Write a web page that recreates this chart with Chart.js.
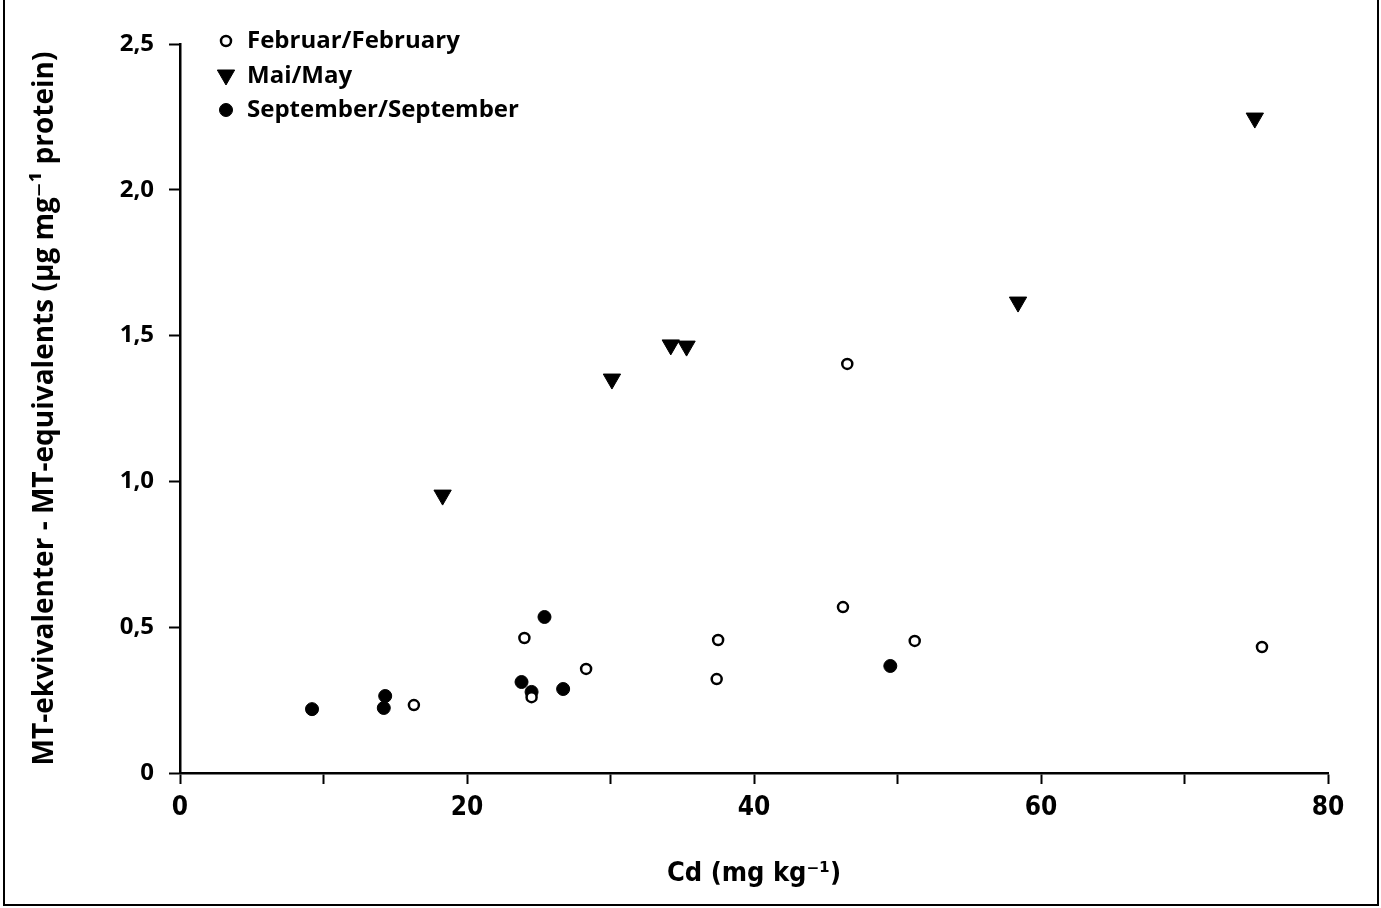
<!DOCTYPE html>
<html>
<head>
<meta charset="utf-8">
<script src="https://cdn.jsdelivr.net/npm/chart.js@4/dist/chart.umd.min.js"></script>
<style>
    html, body { margin: 0; padding: 0; background: #fff; }
    #wrap { width: 1381px; height: 908px; position: relative; }
</style>
</head>
<body>
<div id="wrap"><canvas id="mt-chart" width="1381" height="908"></canvas></div>
<script>
// Cd (mg kg-1) vs MT-equivalents
var febX = [16.3, 24.0, 24.5, 28.3, 37.5, 37.4, 46.2, 46.5, 51.2, 75.4];
var febY = [0.233, 0.463, 0.260, 0.357, 0.456, 0.322, 0.569, 1.403, 0.453, 0.432];

var mayX = [18.3, 30.1, 34.2, 35.3, 58.4, 74.9];
var mayY = [0.953, 1.351, 1.468, 1.464, 1.615, 2.246];

var sepX = [9.2, 14.3, 14.2, 23.8, 24.5, 25.4, 26.7, 49.5];
var sepY = [0.219, 0.264, 0.223, 0.312, 0.278, 0.535, 0.288, 0.367];

var seriesNames = ['Februar/February', 'Mai/May', 'September/September'];
var xTickLabels = ['0', '20', '40', '60', '80'];
var yTickLabels = ['0', '0,5', '1,0', '1,5', '2,0', '2,5'];

function toPoints(xs, ys) {
    var pts = [];
    for (var i = 0; i < xs.length; i++) {
        pts.push({ x: xs[i], y: ys[i] });
    }
    return pts;
}

var boldFont = '"Open Sans", "DejaVu Sans", sans-serif';
var narrowFont = '"Liberation Sans Narrow", "DejaVu Sans Condensed", "Open Sans", sans-serif';

// legend drawn inside the plot, top-left, like the printed figure
var innerLegend = {
    id: 'innerLegend',
    afterDraw: function (chart) {
        var ctx = chart.ctx;
        var rows = [
            { y: 41, ds: chart.data.datasets[0] },
            { y: 76, ds: chart.data.datasets[1] },
            { y: 110, ds: chart.data.datasets[2] }
        ];
        ctx.save();
        ctx.font = 'bold 24px ' + boldFont;
        ctx.fillStyle = '#000';
        ctx.textBaseline = 'middle';
        rows.forEach(function (r) {
            var opts = {
                pointStyle: r.ds.pointStyle,
                radius: r.ds.pointRadius,
                rotation: r.ds.rotation || 0,
                borderWidth: r.ds.borderWidth
            };
            ctx.fillStyle = r.ds.backgroundColor;
            ctx.strokeStyle = r.ds.borderColor;
            ctx.lineWidth = r.ds.borderWidth;
            Chart.helpers.drawPoint(ctx, opts, 226, r.y + (r.ds.pointStyle === 'triangle' ? -1 : 0));
            ctx.fillStyle = '#000';
            ctx.fillText(r.ds.label, 247, r.y);
        });
        // frame around the figure
        ctx.strokeStyle = '#000';
        ctx.lineWidth = 2;
        ctx.beginPath();
        ctx.moveTo(4, 0);
        ctx.lineTo(4, 905);
        ctx.lineTo(1378, 905);
        ctx.lineTo(1378, 0);
        ctx.stroke();
        ctx.restore();
    }
};

var ctx = document.getElementById('mt-chart');
var MtChart = new Chart(ctx, {
    type: 'scatter',
    data: {
        datasets: [
            {
                label: seriesNames[0],
                data: toPoints(febX, febY),
                pointStyle: 'circle',
                pointRadius: 5,
                backgroundColor: '#fff',
                borderColor: '#000',
                borderWidth: 2.5
            },
            {
                label: seriesNames[1],
                data: toPoints(mayX, mayY),
                pointStyle: 'triangle',
                rotation: 180,
                pointRadius: 10,
                backgroundColor: '#000',
                borderColor: '#000',
                borderWidth: 1
            },
            {
                label: seriesNames[2],
                data: toPoints(sepX, sepY),
                pointStyle: 'circle',
                pointRadius: 6.5,
                backgroundColor: '#000',
                borderColor: '#000',
                borderWidth: 1
            }
        ]
    },
    plugins: [innerLegend],
    options: {
        responsive: false,
        animation: false,
        layout: {
            padding: { left: 0, top: 44, right: 53, bottom: 0 }
        },
        plugins: {
            legend: { display: false },
            tooltip: { enabled: false }
        },
        scales: {
            x: {
                type: 'linear',
                min: 0,
                max: 80,
                afterFit: function (scale) { scale.height = 135; },
                border: { display: true, color: '#000', width: 2.5 },
                grid: {
                    display: true,
                    drawOnChartArea: false,
                    drawTicks: true,
                    tickLength: 11,
                    tickWidth: 2,
                    tickColor: '#000'
                },
                ticks: {
                    stepSize: 10,
                    autoSkip: false,
                    maxRotation: 0,
                    padding: 9,
                    color: '#000',
                    font: { family: narrowFont, size: 26, weight: 'bold' },
                    callback: function (v) {
                        return v % 20 === 0 ? xTickLabels[v / 20] : '';
                    }
                },
                title: {
                    display: true,
                    text: 'Cd (mg kg\u207B\u00B9)',
                    color: '#000',
                    font: { family: narrowFont, size: 27, weight: 'bold' },
                    padding: { top: 0, bottom: 18 }
                }
            },
            y: {
                type: 'linear',
                min: 0,
                max: 2.5,
                afterFit: function (scale) { scale.width = 180; },
                border: { display: true, color: '#000', width: 2.5 },
                grid: {
                    display: true,
                    drawOnChartArea: false,
                    drawTicks: true,
                    tickLength: 11,
                    tickWidth: 2,
                    tickColor: '#000'
                },
                ticks: {
                    stepSize: 0.5,
                    padding: 15,
                    color: '#000',
                    font: { family: boldFont, size: 24, weight: 'bold' },
                    callback: function (v) {
                        return yTickLabels[Math.round(v * 2)];
                    }
                },
                title: {
                    display: true,
                    text: 'MT-ekvivalenter - MT-equivalents (\u00B5g mg\u207B\u00B9 protein)',
                    color: '#000',
                    font: { family: boldFont, size: 28, weight: 'bold' },
                    padding: { top: 28, bottom: 0 }
                }
            }
        }
    }
});
</script>
</body>
</html>
